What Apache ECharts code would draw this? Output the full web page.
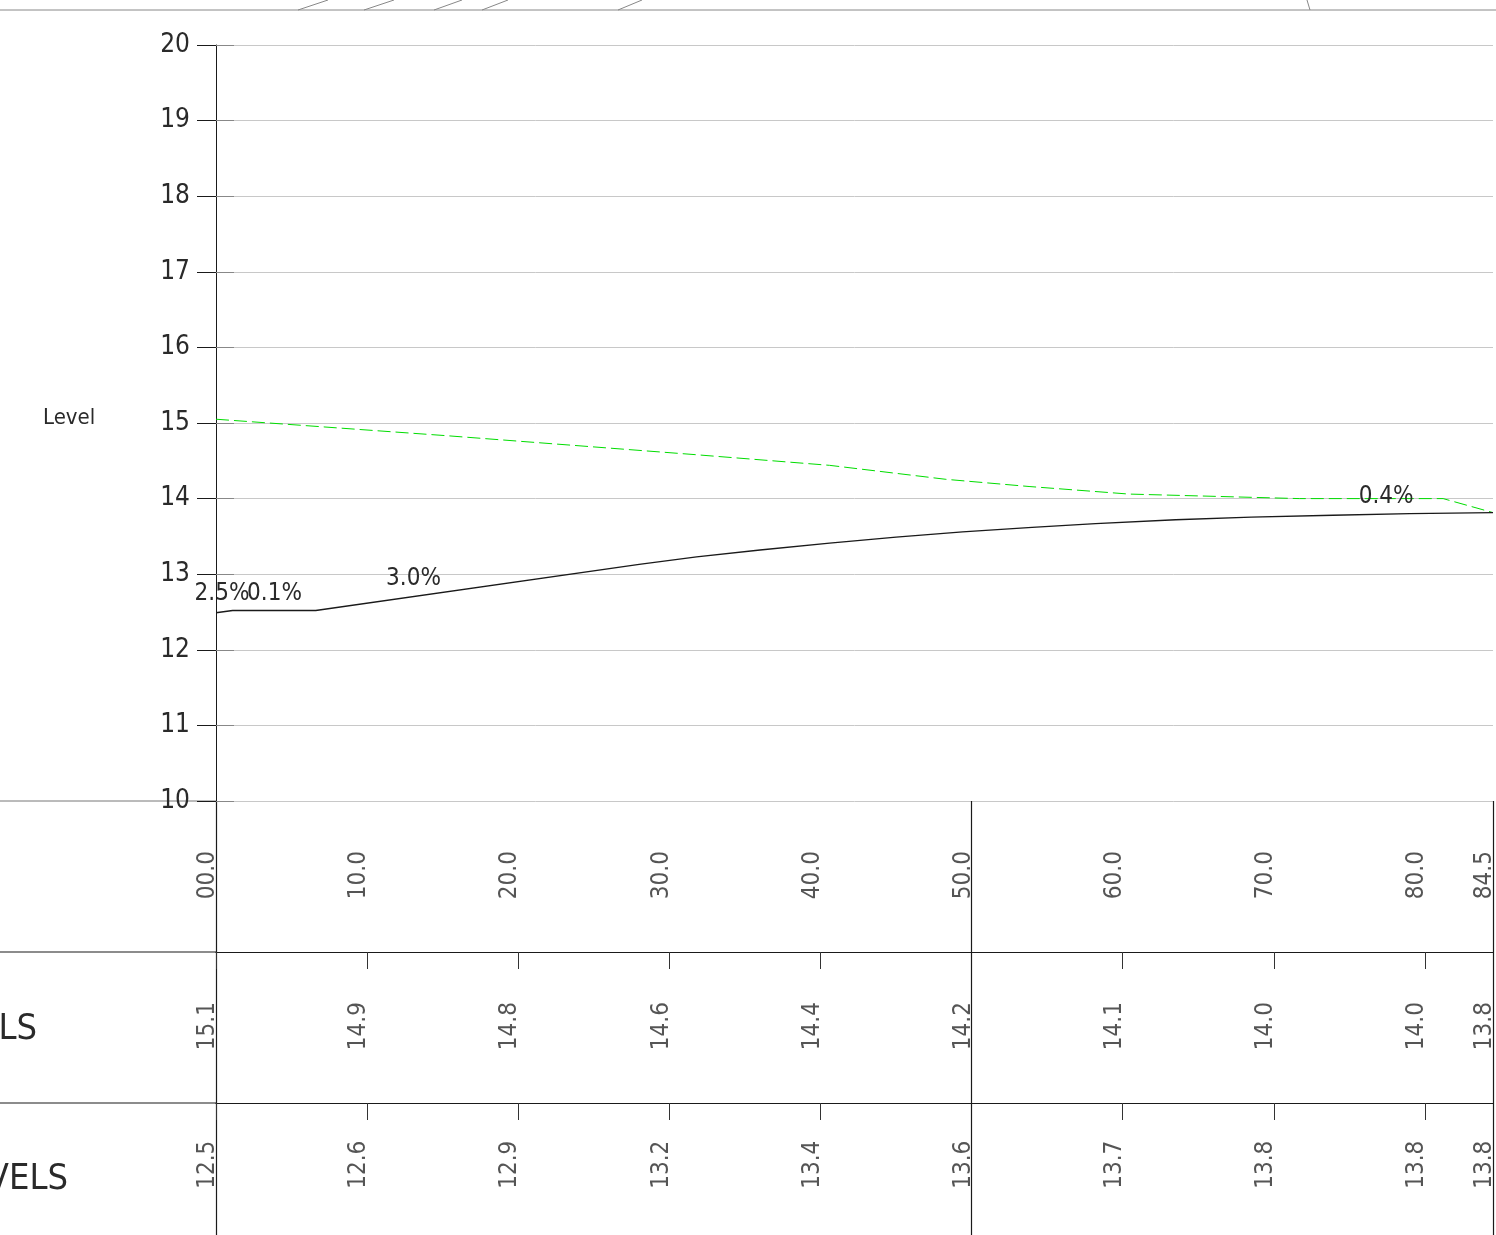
<!DOCTYPE html>
<html>
<head>
<meta charset="utf-8">
<title>Long section</title>
<script src="https://cdn.jsdelivr.net/npm/echarts@6/dist/echarts.min.js"></script>
<style>
  html, body { margin: 0; padding: 0; background: #fff; }
  #chart { width: 1496px; height: 1235px; }
</style>
</head>
<body>
<div id="chart"></div>
<script>
// table rows
var chainages = [0, 10, 20, 30, 40, 50, 60, 70, 80, 84.5];
var chainageLabels = ['00.0', '10.0', '20.0', '30.0', '40.0', '50.0', '60.0', '70.0', '80.0', '84.5'];
var existingLevels = ['15.1', '14.9', '14.8', '14.6', '14.4', '14.2', '14.1', '14.0', '14.0', '13.8'];
var designLevels = ['12.5', '12.6', '12.9', '13.2', '13.4', '13.6', '13.7', '13.8', '13.8', '13.8'];

// profiles [chainage, level]
var existingProfile = [[0, 15.05], [15.4, 14.83], [31.8, 14.58], [40.6, 14.44], [48.3, 14.255],
  [53.8, 14.16], [60.4, 14.06], [71.7, 14.0], [81.2, 14.0], [84.5, 13.815]];
var designProfile = [[0, 12.49], [1.1, 12.52], [6.6, 12.52], [28, 13.13], [31.8, 13.23], [36, 13.32],
  [40.6, 13.41], [45, 13.49], [49.4, 13.56], [54, 13.62], [58.2, 13.67], [63.5, 13.72],
  [68.5, 13.755], [73.9, 13.78], [79, 13.80], [84.5, 13.815]];

// grade labels [text, chainage, level]
var gradeLabels = [['2.5%', 0.4, 12.745], ['0.1%', 3.87, 12.745], ['3.0%', 13.07, 12.94], ['0.4%', 77.43, 14.03]];

var levelMin = 10, levelMax = 20;

var FONT = "'DejaVu Sans Condensed', 'Liberation Sans Narrow', sans-serif";
var INK = '#1a1a1a';

var chart = echarts.init(document.getElementById('chart'));

var rowTops = [801, 952, 1103];
var rowTexts = [chainageLabels, existingLevels, designLevels];

var grids = [{ left: 216, top: 45, width: 1277, height: 756 }];
var xAxes = [{
  gridIndex: 0, type: 'value', min: 0, max: 84.5, show: false
}];
var yAxes = [{
  gridIndex: 0, type: 'value', position: 'left', min: levelMin, max: levelMax, interval: 1,
  axisLine: { show: true, lineStyle: { color: INK, width: 1 } },
  axisTick: { show: true, length: 19, lineStyle: { color: INK } },
  axisLabel: { margin: 26, fontFamily: FONT, fontSize: 26, color: '#2a2a2a' },
  splitLine: { show: true, lineStyle: { color: '#c8c8c8', width: 1 } }
}, {
  gridIndex: 0, type: 'value', position: 'left', offset: 0, min: levelMin, max: levelMax, interval: 1,
  axisLine: { show: false },
  axisTick: { show: true, inside: true, length: 18, lineStyle: { color: '#888' } },
  axisLabel: { show: false },
  splitLine: { show: false }
}];

var series = [{
  name: 'existing',
  type: 'line',
  xAxisIndex: 0, yAxisIndex: 0,
  data: existingProfile,
  symbol: 'none',
  lineStyle: { color: '#00dd00', width: 1, type: [13, 5] },
  z: 3
}, {
  name: 'design',
  type: 'line',
  xAxisIndex: 0, yAxisIndex: 0,
  data: designProfile,
  symbol: 'none',
  lineStyle: { color: INK, width: 1.3 },
  z: 4,
  markPoint: {
    symbol: 'circle',
    symbolSize: 0,
    silent: true,
    label: {
      show: true, position: 'inside', align: 'center', verticalAlign: 'middle',
      fontFamily: FONT, fontSize: 24, color: '#2a2a2a',
      formatter: function (p) { return p.name; }
    },
    data: gradeLabels.map(function (g) {
      return { name: g[0], coord: [g[1], g[2]] };
    })
  }
}];

rowTops.forEach(function (top, r) {
  var gi = r + 1;
  grids.push({ left: 216, top: top, width: 1277, height: 151 });
  xAxes.push({
    gridIndex: gi, type: 'value', min: 0, max: 84.5, interval: 10, position: 'top',
    axisLine: { show: true, lineStyle: { color: INK, width: 1.2 } },
    axisTick: { show: true, inside: true, length: 17, lineStyle: { color: '#333' } },
    axisLabel: { show: false },
    splitLine: { show: false }
  });
  yAxes.push({
    gridIndex: gi, type: 'value', min: 0, max: 1,
    axisLine: { show: true, lineStyle: { color: INK, width: 1.2 } },
    axisTick: { show: false }, axisLabel: { show: false }, splitLine: { show: false }
  });
  var texts = rowTexts[r];
  series.push({
    type: 'scatter',
    xAxisIndex: gi, yAxisIndex: yAxes.length - 1,
    symbolSize: 0,
    silent: true,
    data: chainages.map(function (c, i) { return { value: [c, 0.35], name: texts[i] }; }),
    label: {
      show: true, position: [4, 0], rotate: 90, align: 'left', verticalAlign: 'bottom',
      fontFamily: FONT, fontSize: 24, color: '#2a2a2a',
      formatter: function (p) { return p.name; }
    },
    markLine: {
      silent: true, symbol: ['none', 'none'],
      label: { show: false },
      lineStyle: { color: INK, type: 'solid', width: 1.2 },
      data: [{ xAxis: 50 }, { xAxis: 84.5 }]
    }
  });
});

var option = {
  animation: false,
  backgroundColor: '#fff',
  title: {
    text: 'Level', left: 38, top: 402,
    textStyle: { fontFamily: FONT, fontSize: 22, fontWeight: 'normal', color: '#2a2a2a' }
  },
  grid: grids,
  xAxis: xAxes,
  yAxis: yAxes,
  series: series,
  graphic: [
    // frame above the drawing
    { type: 'line', shape: { x1: 0, y1: 10, x2: 1496, y2: 10 }, style: { stroke: '#888', lineWidth: 1 }, silent: true },
    { type: 'line', shape: { x1: 298, y1: 10, x2: 328, y2: 0 }, style: { stroke: '#888', lineWidth: 1 }, silent: true },
    { type: 'line', shape: { x1: 364, y1: 10, x2: 394, y2: 0 }, style: { stroke: '#888', lineWidth: 1 }, silent: true },
    { type: 'line', shape: { x1: 434, y1: 10, x2: 462, y2: 0 }, style: { stroke: '#888', lineWidth: 1 }, silent: true },
    { type: 'line', shape: { x1: 482, y1: 10, x2: 508, y2: 0 }, style: { stroke: '#888', lineWidth: 1 }, silent: true },
    { type: 'line', shape: { x1: 618, y1: 10, x2: 642, y2: 0 }, style: { stroke: '#888', lineWidth: 1 }, silent: true },
    { type: 'line', shape: { x1: 1307, y1: 0, x2: 1310, y2: 10 }, style: { stroke: '#888', lineWidth: 1 }, silent: true },
    // table rules left of the axis
    { type: 'line', shape: { x1: 0, y1: 801, x2: 216, y2: 801 }, style: { stroke: '#777', lineWidth: 1 }, silent: true },
    { type: 'line', shape: { x1: 0, y1: 952, x2: 216, y2: 952 }, style: { stroke: INK, lineWidth: 1.2 }, silent: true },
    { type: 'line', shape: { x1: 0, y1: 1103, x2: 216, y2: 1103 }, style: { stroke: INK, lineWidth: 1.2 }, silent: true },
    // row titles (cut at the page edge)
    { type: 'text', x: 37, y: 1030, silent: true,
      style: { text: 'LEVELS', align: 'right', verticalAlign: 'middle', font: '36px ' + FONT, fill: '#2a2a2a' } },
    { type: 'text', x: 68, y: 1180, silent: true,
      style: { text: 'LEVELS', align: 'right', verticalAlign: 'middle', font: '36px ' + FONT, fill: '#2a2a2a' } }
  ]
};

chart.setOption(option);
</script>
</body>
</html>
